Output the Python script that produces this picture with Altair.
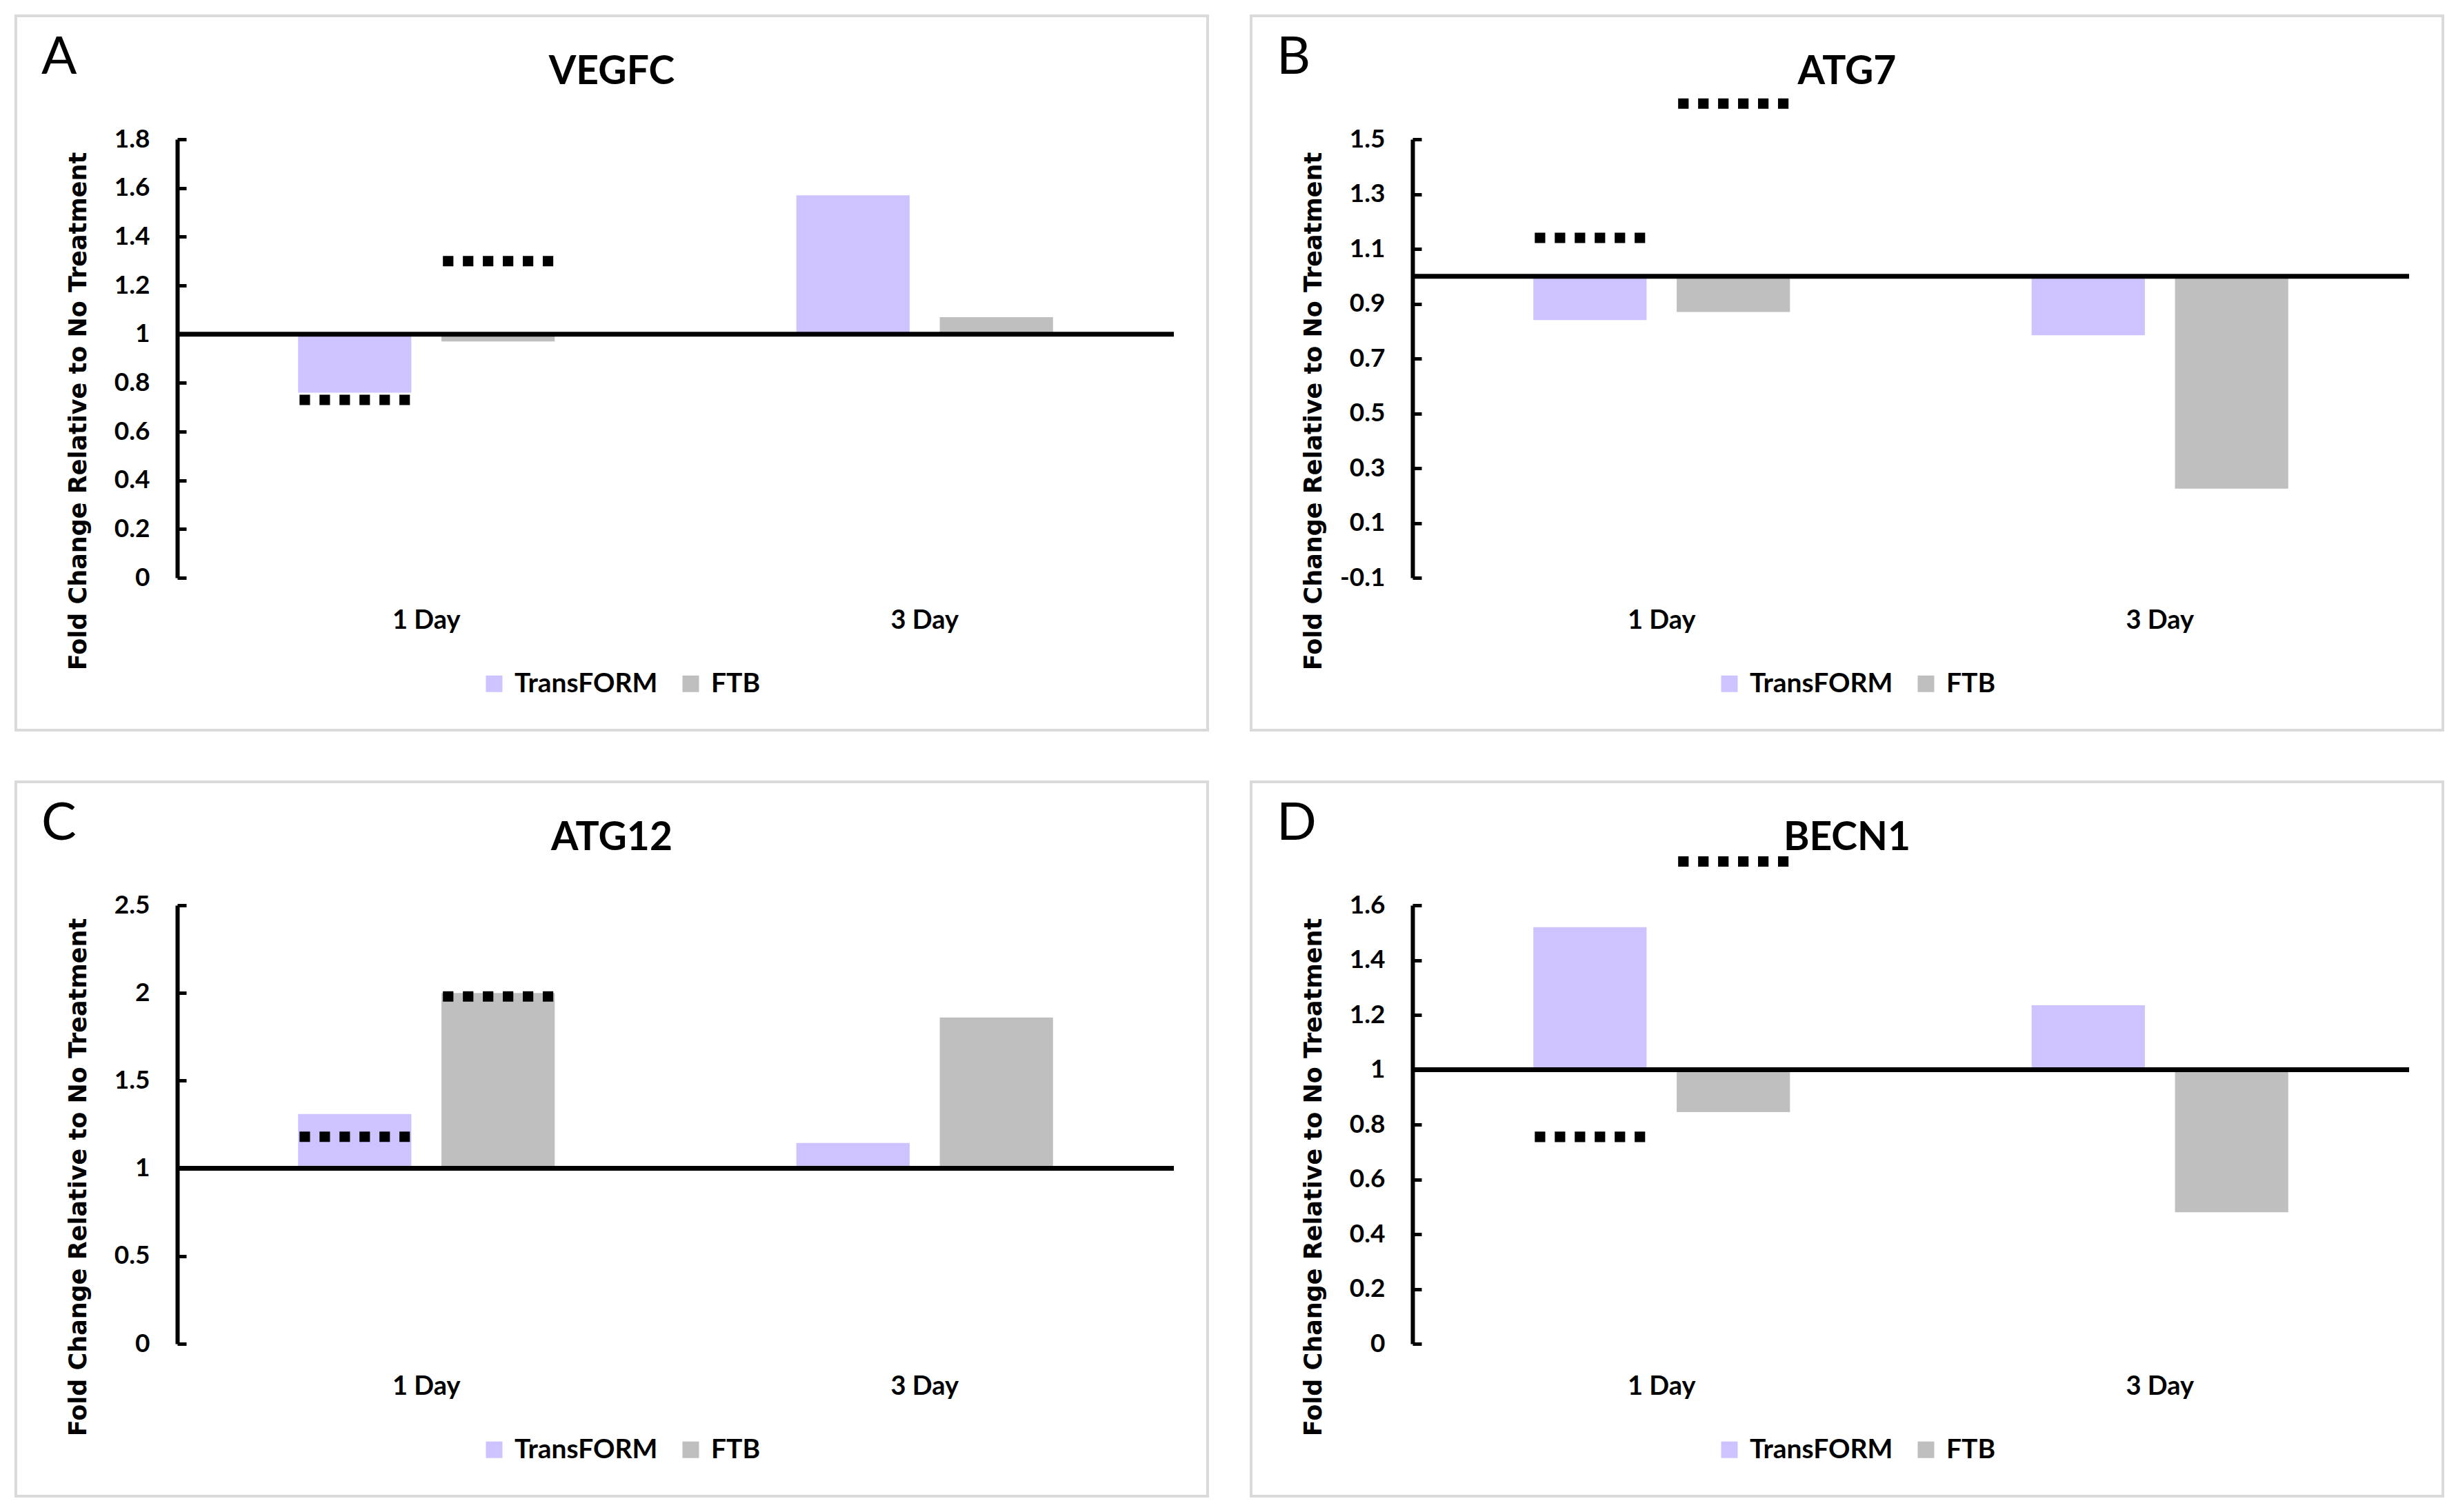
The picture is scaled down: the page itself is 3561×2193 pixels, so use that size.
import altair as alt
import pandas as pd

# ---------------- data ----------------
days = ["1 Day", "3 Day"]
series = ["TransFORM", "FTB"]
colors = ["#CFC3FF", "#BFBFBF"]

genes = ["VEGFC", "ATG7", "ATG12", "BECN1"]
letters = ["A", "B", "C", "D"]

# bar values per gene: [1 Day, 3 Day]
transform_vals = [[0.76, 1.57], [0.84, 0.785], [1.31, 1.145], [1.52, 1.235]]
ftb_vals = [[0.97, 1.07], [0.87, 0.225], [2.00, 1.86], [0.845, 0.48]]

# dotted reference markers (1 Day only)
transform_marks = [0.73, 1.14, 1.18, 0.755]
ftb_marks = [1.30, 1.63, 1.98, 1.76]

# y axis domains and tick values
y_domains = [[0, 1.8], [-0.1, 1.5], [0, 2.5], [0, 1.6]]
y_ticks = [
    [0, 0.2, 0.4, 0.6, 0.8, 1, 1.2, 1.4, 1.6, 1.8],
    [-0.1, 0.1, 0.3, 0.5, 0.7, 0.9, 1.1, 1.3, 1.5],
    [0, 0.5, 1, 1.5, 2, 2.5],
    [0, 0.2, 0.4, 0.6, 0.8, 1, 1.2, 1.4, 1.6],
]
y_title = "Fold Change Relative to No Treatment"

# ---------------- layout / style ----------------
W, H = 1445, 636
L, R, T, B = 234, 49, 179, 221
PW = L + W + R
LABEL_FONT = "Lato"

# six square dots spanning [-1, 1]
dot, gap, hh = 0.19, 0.172, 0.094
dotted_path = "".join(
    f"M{-1 + k * (dot + gap):.3f},{-hh}H{-1 + k * (dot + gap) + dot:.3f}V{hh}H{-1 + k * (dot + gap):.3f}Z"
    for k in range(6)
)

label_expr = "replace(format(datum.value, '~g'), '\u2212', '-')"


def x_enc():
    return alt.X(
        "day:N",
        scale=alt.Scale(domain=days, paddingInner=0.485, paddingOuter=0.2425),
        axis=alt.Axis(
            orient="bottom", domain=False, ticks=False, tickSize=0, grid=False,
            labelPadding=43, labelFont=LABEL_FONT, labelFontSize=38,
            labelFontWeight="bold", labelColor="black", labelAngle=0, title=None,
            zindex=1,
        ),
    )


def xoff_enc():
    return alt.XOffset(
        "series:N",
        scale=alt.Scale(domain=series, paddingInner=0.21, paddingOuter=0),
    )


def panel(i):
    dom = y_domains[i]
    ticks = y_ticks[i]

    bars_df = pd.DataFrame({
        "day": days + days,
        "series": [series[0]] * 2 + [series[1]] * 2,
        "value": transform_vals[i] + ftb_vals[i],
    })
    marks_df = pd.DataFrame({
        "day": [days[0], days[0]],
        "series": series,
        "mark": [transform_marks[i], ftb_marks[i]],
    })
    one = pd.DataFrame({"a": [0]})

    border = alt.Chart(one).mark_rect(
        fill="white", fillOpacity=0, stroke="#DADADA", strokeWidth=4
    ).encode(
        x=alt.value(-L), x2=alt.value(W + R),
        y=alt.value(-T), y2=alt.value(H + B),
    )

    bars = alt.Chart(bars_df).mark_bar().encode(
        x=x_enc(),
        xOffset=xoff_enc(),
        y=alt.Y(
            "value:Q",
            scale=alt.Scale(domain=dom, nice=False, zero=False),
            axis=alt.Axis(
                orient="left", values=ticks, grid=False,
                domain=True, domainColor="black", domainWidth=6,
                ticks=False, tickSize=0, labelPadding=40,
                labelFont=LABEL_FONT, labelFontSize=37, labelFontWeight="bold",
                labelColor="black", labelExpr=label_expr,
                title=y_title, titleFont="DejaVu Sans", titleFontSize=35,
                titleFontWeight="bold", titleColor="black",
                titleAngle=270, titleX=-144, titleY=H / 2 + 76,
                titleBaseline="middle", titleAlign="center", zindex=1,
            ),
        ),
        y2=alt.Y2Datum(1),
        color=alt.Color(
            "series:N",
            scale=alt.Scale(domain=series, range=colors),
            legend=alt.Legend(
                orient="none", legendX=440, legendY=770, direction="horizontal",
                title=None, symbolType="square", symbolSize=576,
                symbolStrokeWidth=0, symbolOpacity=1, labelLimit=1000,
                labelFont=LABEL_FONT, labelFontSize=39, labelFontWeight="bold",
                labelColor="black", labelOffset=10, columnPadding=28, padding=0,
            ),
        ),
    )

    dotted = alt.Chart(marks_df).mark_point(
        shape=dotted_path, size=160 * 160, filled=True, color="black",
        opacity=1, strokeWidth=0,
    ).encode(
        x=x_enc(),
        xOffset=xoff_enc(),
        y=alt.Y(
            "mark:Q",
            scale=alt.Scale(domain=dom, nice=False, zero=False),
            axis=alt.Axis(
                orient="right", offset=-W, values=ticks, grid=False,
                domain=False, labels=False, ticks=True, tickSize=13,
                tickWidth=5, tickColor="black", title=None, zindex=1,
            ),
        ),
    )

    baseline = alt.Chart(one).mark_rule(color="black", strokeWidth=7).encode(
        y=alt.YDatum(1, axis=None)
    )

    letter = alt.Chart(pd.DataFrame({"t": [letters[i]]})).mark_text(
        align="left", baseline="alphabetic", font=LABEL_FONT, fontSize=76,
        fontWeight="normal", color="black",
    ).encode(x=alt.value(-197), y=alt.value(-95), text="t:N")

    title = alt.Chart(pd.DataFrame({"t": [genes[i]]})).mark_text(
        align="center", baseline="alphabetic", font=LABEL_FONT, fontSize=57,
        fontWeight="bold", color="black",
    ).encode(x=alt.value(-L + PW / 2), y=alt.value(-80), text="t:N")

    return alt.layer(border, bars, dotted, baseline, letter, title).resolve_axis(
        y="independent"
    ).properties(width=W, height=H)


chart = alt.concat(
    *[panel(i) for i in range(4)], columns=2, spacing={"row": 71, "column": 59}
).resolve_scale(y="independent").resolve_legend(color="independent").configure_view(
    stroke=None
).properties(
    padding={"left": 13, "top": 13, "right": 5, "bottom": 5}
)

chart.save("out.html", embed_options={"renderer": "svg", "actions": False})
